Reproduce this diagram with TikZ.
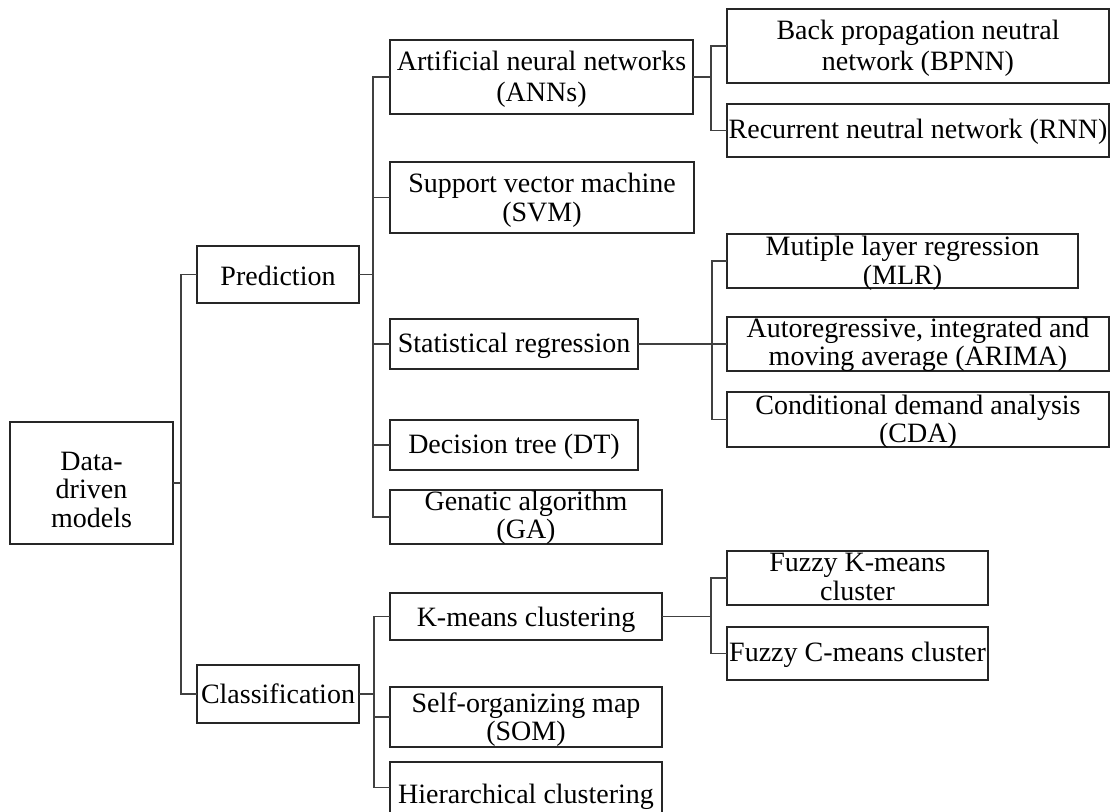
\documentclass[tikz,border=0pt]{standalone}
\usepackage{fontspec}
\setmainfont{Liberation Serif}
% box text: #1 = raise of first baseline above box centre (pt),
% #2 = baselineskip (pt), #3 = lines separated by \\
\newcommand{\bt}[3]{\raisebox{#1pt}[0pt][0pt]{\fontsize{28}{#2}\selectfont\begin{tabular}[t]{@{}c@{}}#3\end{tabular}}}
\tikzset{
  box/.style={draw=black!85, line width=1.1pt, inner sep=0pt, outer sep=0pt, anchor=north west},
  link/.style={draw=black!75, line width=1.1pt},
}
\begin{document}
\begin{tikzpicture}[x=1pt, y=-1pt]
\useasboundingbox (0,0) rectangle (1113,811);

% root
\node[box, minimum width=163pt, minimum height=122pt] (dd) at (10,422) {\bt{13}{28.5}{Data-\\driven\\models}};

% first level
\node[box, minimum width=162pt, minimum height=57pt] (pred) at (197,246) {\bt{-10.5}{31}{Prediction}};
\node[box, minimum width=162pt, minimum height=58pt] (cls)  at (197,665) {\bt{-9}{31}{Classification}};

% prediction methods
\node[box, minimum width=303pt, minimum height=74pt] (ann)  at (390,40)  {\bt{7}{31}{Artificial neural networks\\(ANNs)}};
\node[box, minimum width=304pt, minimum height=71pt] (svm)  at (390,162) {\bt{5.5}{29}{Support vector machine\\(SVM)}};
\node[box, minimum width=248pt, minimum height=50pt] (stat) at (390,319) {\bt{-8.7}{31}{Statistical regression}};
\node[box, minimum width=248pt, minimum height=50pt] (dt)   at (390,420) {\bt{-8}{31}{Decision tree (DT)}};
\node[box, minimum width=272pt, minimum height=54pt] (ga)   at (390,490) {\bt{6.3}{27.5}{Genatic algorithm\\(GA)}};

% classification methods
\node[box, minimum width=272pt, minimum height=47pt] (km)   at (390,593) {\bt{-9.5}{31}{K-means clustering}};
\node[box, minimum width=272pt, minimum height=60pt] (som)  at (390,687) {\bt{4.3}{27.3}{Self-organizing map\\(SOM)}};
\node[box, minimum width=272pt, minimum height=51pt] (hier) at (390,762) {\bt{-15.5}{31}{Hierarchical clustering}};

% neural network variants
\node[box, minimum width=382pt, minimum height=74pt] (bpnn) at (727,9)   {\bt{6.7}{30.7}{Back propagation neutral\\network (BPNN)}};
\node[box, minimum width=382pt, minimum height=53pt] (rnn)  at (727,104) {\bt{-7.8}{31}{Recurrent neutral network (RNN)}};

% regression variants
\node[box, minimum width=351pt, minimum height=54pt] (mlr)   at (727,234) {\bt{6}{29}{Mutiple layer regression\\(MLR)}};
\node[box, minimum width=382pt, minimum height=54pt] (arima) at (727,317) {\bt{6.3}{27.3}{Autoregressive, integrated and\\moving average (ARIMA)}};
\node[box, minimum width=382pt, minimum height=55pt] (cda)   at (727,392) {\bt{5.2}{28.4}{Conditional demand analysis\\(CDA)}};

% clustering variants
\node[box, minimum width=261pt, minimum height=54pt] (fk) at (727,551) {\bt{6.3}{28.3}{Fuzzy K-means\\cluster}};
\node[box, minimum width=261pt, minimum height=53pt] (fc) at (727,627) {\bt{-7.5}{31}{Fuzzy C-means cluster}};

% tree connectors: parent -> trunk -> child
\foreach \c in {pred, cls}
  \draw[link] (dd.east) -| ([xshift=-16pt]\c.west) -- (\c.west);
\foreach \c in {ann, svm, stat, dt, ga}
  \draw[link] (pred.east) -| ([xshift=-17pt]\c.west) -- (\c.west);
\foreach \c in {km, som, hier}
  \draw[link] (cls.east) -| ([xshift=-16pt]\c.west) -- (\c.west);
\foreach \c in {bpnn, rnn}
  \draw[link] (ann.east) -| ([xshift=-16pt]\c.west) -- (\c.west);
\foreach \c in {mlr, arima, cda}
  \draw[link] (stat.east) -| ([xshift=-15pt]\c.west) -- (\c.west);
\foreach \c in {fk, fc}
  \draw[link] (km.east) -| ([xshift=-16pt]\c.west) -- (\c.west);
\end{tikzpicture}
\end{document}
